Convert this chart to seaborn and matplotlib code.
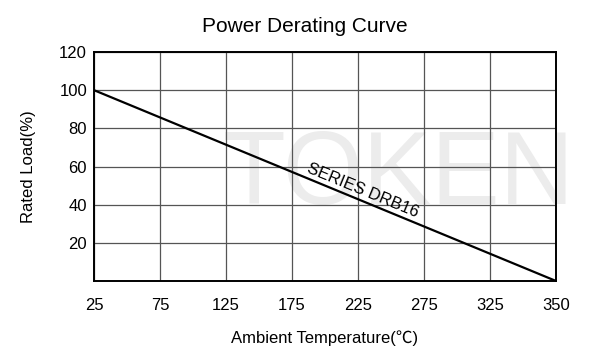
import matplotlib
matplotlib.use("Agg")
import matplotlib.pyplot as plt
import seaborn as sns
import pandas as pd

# data
tick_labels = ["25", "75", "125", "175", "225", "275", "325", "350"]
curve_temps = ["25", "350"]
curve_loads = [100, 0]
y_ticks = [20, 40, 60, 80, 100, 120]

sns.set_theme(style="white")
plt.rcParams['font.family'] = ['Liberation Sans', 'Noto Sans CJK SC', 'DejaVu Sans']

fig = plt.figure(figsize=(6, 3.58), dpi=100)
ax = fig.add_axes([0.1567, 0.2151, 0.77, 0.6396])

pos = [tick_labels.index(t) for t in curve_temps]
df = pd.DataFrame({"pos": pos, "load": curve_loads})

# faint watermark behind the axes
fig.text(0.665, 0.505, "TOKEN", fontsize=74, color="#ececec",
         ha="center", va="center", zorder=-5)
ax.patch.set_alpha(0)

sns.lineplot(data=df, x="pos", y="load", color="black", linewidth=1.6, ax=ax, zorder=3)

ax.set_xlim(0, len(tick_labels) - 1)
ax.set_ylim(0, 120)
ax.set_xticks(range(len(tick_labels)))
ax.set_xticklabels(tick_labels)
ax.set_yticks(y_ticks)
ax.set_yticklabels([str(v) for v in y_ticks])
ax.grid(True, color="#555555", linewidth=0.9)
ax.set_axisbelow(True)
for s in ax.spines.values():
    s.set_color("black")
    s.set_linewidth(1.4)
ax.tick_params(axis="x", length=0, pad=12, labelsize=12, colors="black")
ax.tick_params(axis="y", length=0, pad=5, labelsize=12, colors="black")

ax.set_xlabel("Ambient Temperature(℃)", fontsize=12, labelpad=13, color="black")
ax.set_ylabel("Rated Load(%)", fontsize=12, labelpad=17, color="black")
fig.text(0.508, 0.925, "Power Derating Curve", ha="center", va="center", fontsize=15, color="black")

ax.text(4.05, 45.2, "SERIES DRB16", rotation=-22.4, rotation_mode="anchor",
        ha="center", va="baseline", fontsize=12, color="black", zorder=4)

fig.savefig("out.png", dpi=100, facecolor="white")
